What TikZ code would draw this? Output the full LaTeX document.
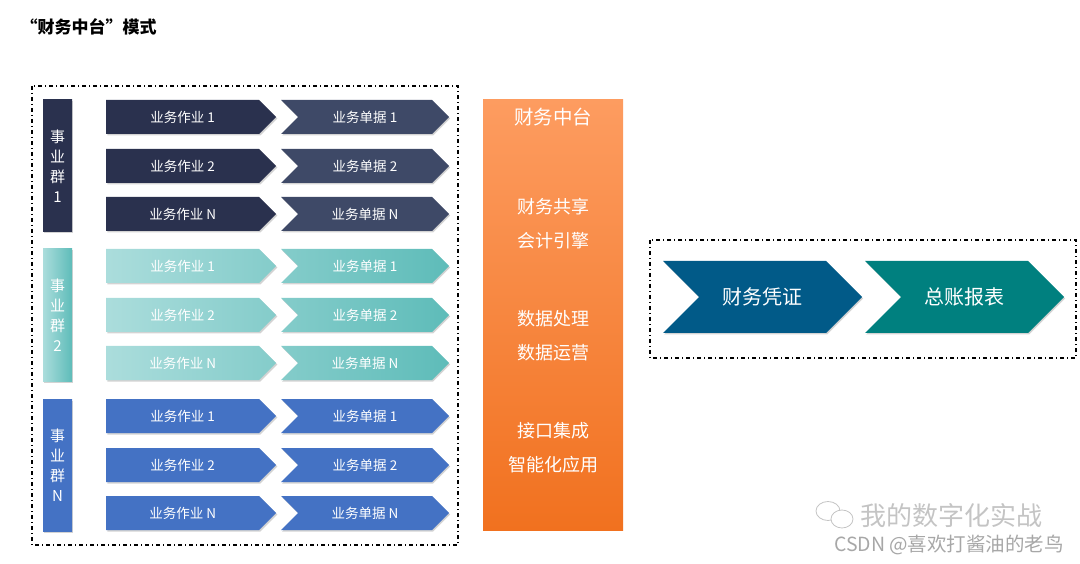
\documentclass[tikz,border=0pt]{standalone}
\usepackage{fontspec}
\setmainfont{Noto Sans CJK SC}
\usetikzlibrary{shapes.symbols,shadows}
\definecolor{navya}{HTML}{2A314E}
\definecolor{navyb}{HTML}{3E4967}
\definecolor{teala}{HTML}{ABDDDC}
\definecolor{tealb}{HTML}{84CCCA}
\definecolor{tealc}{HTML}{5EBCB9}
\definecolor{bluea}{HTML}{4472C4}
\definecolor{orangea}{HTML}{FD9C60}
\definecolor{orangeb}{HTML}{F1711F}
\definecolor{pzblue}{HTML}{015A88}
\definecolor{zzteal}{HTML}{00807F}
\definecolor{wmgray}{HTML}{C4C4C4}
\begin{document}
\begin{tikzpicture}[x=1pt,y=-1pt,
    shadowed/.style={drop shadow={opacity=0.35,shadow xshift=1.2pt,shadow yshift=-1.5pt}},
    zuoye/.style={signal, signal to=east, signal pointer angle=90,
      minimum width=170pt, minimum height=34pt, inner sep=0pt,
      text=white, font=\fontsize{13.5}{15}\selectfont, shadowed},
    danju/.style={zuoye, signal from=west, minimum width=168pt},
    qun/.style={rectangle, minimum width=29pt, minimum height=132pt, inner sep=0pt,
      align=center, text=white, font=\fontsize{15}{20}\selectfont, shadowed},
    ztline/.style={text=white, font=\fontsize{18}{20}\selectfont},
    pingzheng/.style={signal, signal to=east, signal from=west, signal pointer angle=90,
      minimum width=199pt, minimum height=72pt, inner sep=0pt,
      text=white, font=\fontsize{20}{22}\selectfont, shadowed},
    dashbox/.style={draw, line width=1.1pt, dash pattern=on 4pt off 3pt on 1pt off 3pt}]
  \useasboundingbox (0,0) rectangle (1080,564);

  \node[anchor=west, font=\bfseries\fontsize{17}{20}\selectfont] (title) at (17,27) {“财务中台”模式};

  % business groups
  \draw[dashbox] (32,86) rectangle (458,545);
  \foreach \g/\y/\lab/\ba/\bb/\aa/\ab/\da/\db in
    {1/117/1/navya/navya/navya/navya/navyb/navyb,
     2/266/2/teala/tealc/teala/tealb/tealb/tealc,
     3/416/N/bluea/bluea/bluea/bluea/bluea/bluea}
  {
    \path (57.5,\y+49) node[qun, left color=\ba, right color=\bb] (q\g) {事\\业\\群\\\lab};
    \foreach \r/\dy in {1/0, 2/49, N/97}
    {
      \path (106,\y+\dy) node[zuoye, anchor=west, left color=\aa, right color=\ab] (z\g\r) {业务作业 \r};
      \path (365,\y+\dy) node[danju, left color=\da, right color=\db] (d\g\r) {业务单据 \r};
    }
  }

  % middle platform
  \node[rectangle, minimum width=140pt, minimum height=430pt, top color=orangea,
    bottom color=orangeb] (zt) at (553,315) {};
  \node[ztline, font=\fontsize{19.5}{22}\selectfont] (zt0) at (553,117) {财务中台};
  \node[ztline] (zt1) at (553,207) {财务共享};
  \node[ztline] (zt2) at (553,241) {会计引擎};
  \node[ztline] (zt3) at (553,319) {数据处理};
  \node[ztline] (zt4) at (553,353) {数据运营};
  \node[ztline] (zt5) at (553,431) {接口集成};
  \node[ztline] (zt6) at (553,465) {智能化应用};

  % vouchers and reports
  \draw[dashbox] (650,240) rectangle (1076,358);
  \node[pingzheng, fill=pzblue] (pz) at (762.5,297) {财务凭证};
  \node[pingzheng, fill=zzteal] (zz) at (964.5,297) {总账报表};

  % watermark
  \draw[wmgray, fill=white, line width=0.8pt] (828,511) ellipse (12pt and 9.5pt);
  \draw[wmgray, fill=white, line width=0.8pt] (842,519) ellipse (11pt and 9pt);
  \node[text=wmgray, font=\fontsize{26}{28}\selectfont] (wm1) at (951,516) {我的数字化实战};
  \node[text=wmgray!85!black, font=\fontsize{19.5}{21}\selectfont] (wm2) at (949,545) {CSDN @喜欢打酱油的老鸟};
\end{tikzpicture}
\end{document}
